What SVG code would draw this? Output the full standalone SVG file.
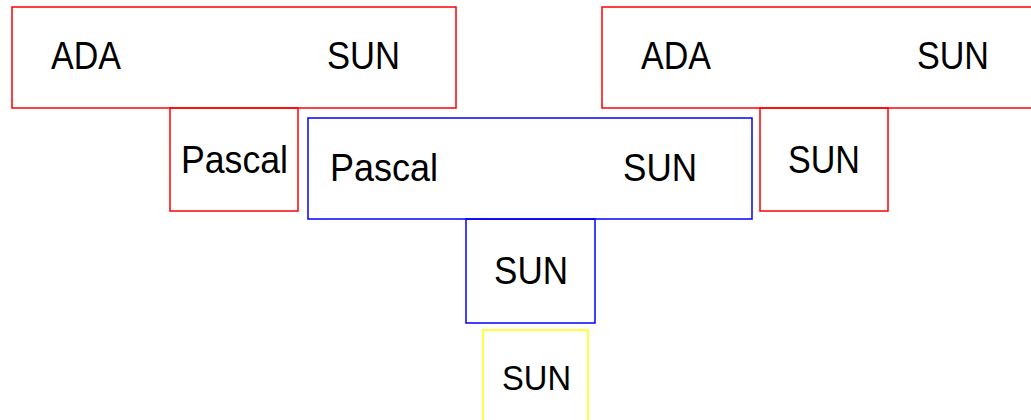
<svg xmlns="http://www.w3.org/2000/svg" width="1031" height="420" viewBox="0 0 1031 420">
<style>
rect{fill:none;stroke-width:1.5}
.r{stroke:#ff0000}
.b{stroke:#0000ff}
.y{stroke:#ffff00}
text{font-family:"Liberation Sans",Arial,sans-serif;font-size:38px;fill:#000}
.s{font-size:35px}
</style>
<rect width="1031" height="420" fill="#ffffff" stroke="none"/>
<g id="connectors"></g>
<g id="node-ada-sun-left">
<rect class="r" x="12" y="7" width="444" height="101"/>
<text x="51" y="69" textLength="70" lengthAdjust="spacingAndGlyphs">ADA</text>
<text x="327" y="69" textLength="73" lengthAdjust="spacingAndGlyphs">SUN</text>
</g>
<g id="node-pascal-left">
<rect class="r" x="170" y="108" width="128" height="103"/>
<text x="181" y="173" textLength="107" lengthAdjust="spacingAndGlyphs">Pascal</text>
</g>
<g id="node-pascal-sun">
<rect class="b" x="308" y="118" width="444" height="101"/>
<text x="330" y="181" textLength="108" lengthAdjust="spacingAndGlyphs">Pascal</text>
<text x="623" y="181" textLength="74" lengthAdjust="spacingAndGlyphs">SUN</text>
</g>
<g id="node-sun-blue">
<rect class="b" x="466" y="219" width="129" height="104"/>
<text x="494" y="284" textLength="74" lengthAdjust="spacingAndGlyphs">SUN</text>
</g>
<g id="node-sun-yellow">
<rect class="y" x="483" y="330" width="105" height="100"/>
<text class="s" x="502" y="390" textLength="69" lengthAdjust="spacingAndGlyphs">SUN</text>
</g>
<g id="node-ada-sun-right">
<rect class="r" x="602" y="7" width="444" height="101"/>
<text x="641" y="69" textLength="70" lengthAdjust="spacingAndGlyphs">ADA</text>
<text x="917" y="69" textLength="72" lengthAdjust="spacingAndGlyphs">SUN</text>
</g>
<g id="node-sun-right">
<rect class="r" x="760" y="108" width="128" height="103"/>
<text x="788" y="173" textLength="72" lengthAdjust="spacingAndGlyphs">SUN</text>
</g>
</svg>
